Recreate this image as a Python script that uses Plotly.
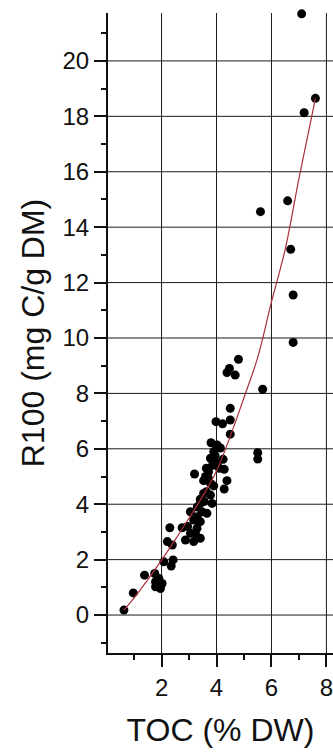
import plotly.graph_objects as go

# Scatter data: TOC (% DW) vs R100 (mg C/g DM)
toc = [7.10, 7.60, 7.19, 6.59, 5.60, 6.70, 6.79, 6.79, 4.80, 4.47, 4.38, 4.68, 5.68,
       4.50, 4.50, 3.98, 4.22, 4.50, 5.50, 5.50, 3.80, 4.02, 4.14, 3.90, 3.78, 4.24,
       4.02, 3.20, 3.63, 3.71, 4.28, 3.53, 4.38, 3.78, 3.90, 4.28, 3.63, 3.78, 3.41,
       3.53, 3.84, 3.41, 3.05, 3.47, 3.65, 3.17, 3.41, 2.30, 2.75, 3.29, 3.05, 3.23,
       3.41, 2.87, 2.21, 2.39, 3.17, 2.08, 2.42, 2.35, 1.38, 1.75, 1.90, 1.78, 2.02,
       1.78, 1.96, 0.97, 0.63, 3.60, 3.95, 3.85, 4.10, 3.70, 3.30, 3.55, 3.30, 2.95]
r100 = [21.7, 18.65, 18.13, 14.95, 14.56, 13.2, 11.55, 9.84, 9.23, 8.9, 8.75, 8.66, 8.15,
        7.46, 7.04, 6.98, 6.9, 6.53, 5.86, 5.63, 6.22, 6.14, 6.03, 5.9, 5.66, 5.62,
        5.48, 5.09, 5.3, 5.17, 5.26, 4.85, 4.85, 4.75, 4.66, 4.55, 4.45, 4.33, 4.18,
        4.39, 4.03, 4.03, 3.73, 3.73, 3.67, 3.43, 3.37, 3.15, 3.15, 3.13, 2.95, 2.95,
        2.77, 2.71, 2.65, 2.53, 2.65, 1.92, 1.99, 1.77, 1.44, 1.5, 1.32, 1.2, 1.14,
        1.02, 0.96, 0.8, 0.18, 5.0, 5.75, 5.4, 5.3, 4.95, 3.9, 4.1, 3.55, 3.2]

# Fitted curve
fit_x = [0.63, 1.0, 1.5, 2.0, 2.5, 3.0, 3.5, 4.0, 4.5, 5.0, 5.5, 6.0, 6.5, 7.0, 7.6]
fit_y = [0.18, 0.62, 1.28, 1.98, 2.72, 3.5, 4.3, 5.2, 6.45, 7.85, 9.3, 11.3, 13.2, 15.75, 18.65]

# Tick values (major ticks carry labels and gridlines)
x_ticks = [2, 4, 6, 8]
y_ticks = [0, 2, 4, 6, 8, 10, 12, 14, 16, 18, 20]

X_RANGE = [0.05, 8.24]
Y_RANGE = [-1.37, 21.73]

FONT = "Liberation Sans, Arial, sans-serif"
INK = "#111111"
GRID = "#1a1a1a"

fig = go.Figure()

# gridlines at the major tick values
for xv in x_ticks:
    fig.add_shape(type="line", xref="x", yref="paper", x0=xv, x1=xv, y0=0, y1=1,
                  line=dict(color=GRID, width=1), layer="below")
for yv in y_ticks:
    fig.add_shape(type="line", xref="paper", yref="y", x0=0, x1=1, y0=yv, y1=yv,
                  line=dict(color=GRID, width=1), layer="below")

fig.add_trace(go.Scatter(x=toc, y=r100, mode="markers",
                         marker=dict(color="black", size=9, line=dict(width=0)),
                         cliponaxis=False, showlegend=False))
fig.add_trace(go.Scatter(x=fit_x, y=fit_y, mode="lines",
                         line=dict(color="#a8303a", width=1.2, shape="spline"),
                         showlegend=False))

fig.update_layout(
    template="none",
    width=333, height=756,
    margin=dict(l=108, r=0, t=13, b=103),
    paper_bgcolor="white", plot_bgcolor="white",
    font=dict(family=FONT, color=INK),
    xaxis=dict(
        range=X_RANGE, tickmode="array", tickvals=x_ticks, ticktext=[str(v) for v in x_ticks],
        tickfont=dict(size=24), ticks="outside", ticklen=12, tickwidth=2, tickcolor=INK,
        ticklabeloverflow="allow",
        showline=True, linecolor=INK, linewidth=2,
        showgrid=False, zeroline=False,
        title=dict(text="TOC (% DW)", font=dict(size=32), standoff=19),
    ),
    yaxis=dict(
        range=Y_RANGE, tickmode="array", tickvals=y_ticks, ticktext=[str(v) for v in y_ticks],
        tickfont=dict(size=24), ticks="outside", ticklen=12, tickwidth=2, tickcolor=INK,
        showline=True, linecolor=INK, linewidth=2,
        showgrid=False, zeroline=False,
        title=dict(text="R100 (mg C/g DM)", font=dict(size=32), standoff=8),
    ),
    # overlay axes used only for the minor ticks
    xaxis2=dict(overlaying="x", side="bottom", anchor="y", range=X_RANGE,
                tickmode="linear", tick0=1, dtick=2, ticks="outside", ticklen=6,
                tickwidth=2, tickcolor=INK, showticklabels=False, showgrid=False,
                zeroline=False, showline=False),
    yaxis2=dict(overlaying="y", side="left", anchor="x", range=Y_RANGE,
                tickmode="linear", tick0=1, dtick=2, ticks="outside", ticklen=6,
                tickwidth=2, tickcolor=INK, showticklabels=False, showgrid=False,
                zeroline=False, showline=False),
)
# invisible trace so the overlay axes are drawn
fig.add_trace(go.Scatter(x=[fit_x[0]], y=[fit_y[0]], xaxis="x2", yaxis="y2",
                         mode="markers", marker=dict(opacity=0), hoverinfo="skip",
                         showlegend=False))

fig.write_html("out.html")
